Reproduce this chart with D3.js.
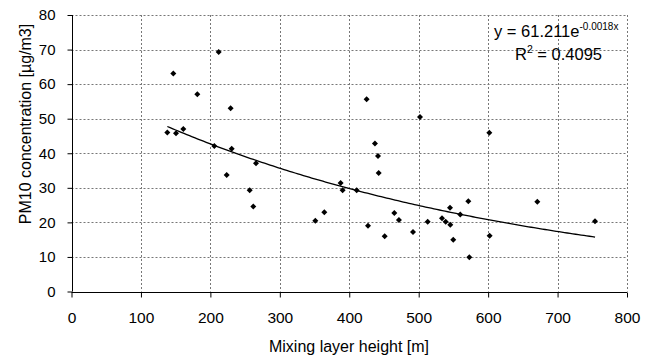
<!DOCTYPE html>
<html><head><meta charset="utf-8">
<script src="https://cdn.jsdelivr.net/npm/d3@7"></script>
<style>body{margin:0;background:#fff}svg{display:block}text{font-family:"Liberation Sans",Arial,sans-serif;fill:#000}</style>
</head><body>
<svg id="c" width="652" height="361"></svg>
<script>
const mixingHeight = [138,146.6,150.5,161,181.2,205.7,212,229.2,230.7,223.5,256.6,261.8,265.7,351.1,364.1,387.6,390.5,410.7,425,427,437,441.4,442.4,451,464.9,471.6,491.8,501.9,513,533.6,538.9,545.1,545.5,549.8,559.9,571.5,572.9,601.7,602.2,670.8,753.9];
const pm10 = [46.0,63.1,45.8,47.0,57.1,42.1,69.3,53.0,41.3,33.7,29.3,24.6,37.1,20.5,22.9,31.4,29.3,29.3,55.6,19.0,42.8,39.2,34.3,16.0,22.7,20.7,17.2,50.5,20.2,21.2,20.2,24.2,19.3,15.0,22.3,26.1,9.9,45.9,16.1,26.0,20.3];
const xTicks = [0,100,200,300,400,500,600,700,800];
const yTicks = [0,10,20,30,40,50,60,70,80];
const trendCoefA = 61.211, trendCoefB = -0.0018;
const trendRange = [138, 754];
const eqText = "y = 61.211e", eqSup = "-0.0018x", r2Text = "0.4095";

const svg = d3.select("#c");
const L = 71.5, R = 627, T = 15, B = 291.5;
const x = d3.scaleLinear().domain([0,800]).range([L,R]);
const y = d3.scaleLinear().domain([0,80]).range([B,T]);

// grid
const g = svg.append("g").attr("stroke","#777").attr("stroke-width",1).attr("stroke-dasharray","2,2");
yTicks.filter(v=>v>0).forEach(v=>g.append("line").attr("x1",L).attr("x2",R).attr("y1",Math.round(y(v))+0.5).attr("y2",Math.round(y(v))+0.5));
xTicks.filter(v=>v>0).forEach(v=>g.append("line").attr("y1",T).attr("y2",B).attr("x1",Math.round(x(v))+0.5).attr("x2",Math.round(x(v))+0.5));

// axes
const xa = svg.append("g").attr("transform",`translate(0,${Math.round(B)+0.5})`)
  .call(d3.axisBottom(x).tickValues(xTicks).tickSize(5).tickPadding(14).tickFormat(d3.format("d")));
const ya = svg.append("g").attr("transform",`translate(${Math.round(L)+0.5},0)`)
  .call(d3.axisLeft(y).tickValues(yTicks).tickSize(5).tickPadding(12).tickFormat(d3.format("d")));
[xa,ya].forEach(a=>{a.select(".domain").attr("stroke","#000");a.selectAll("line").attr("stroke","#000");
  a.selectAll("text").attr("font-family","Liberation Sans, Arial, sans-serif").attr("fill","#000");});
xa.selectAll("text").attr("font-size",15.5);
ya.selectAll("text").attr("font-size",15);
xa.select(".domain").attr("d",`M${L},0H${R}`);
ya.select(".domain").attr("d",`M0,${T}V${B}`);

// trend line
const tdata = d3.range(trendRange[0], trendRange[1]+0.1, 4).map(v=>[v, trendCoefA*Math.exp(trendCoefB*v)]);
svg.append("path").datum(tdata).attr("fill","none").attr("stroke","#000").attr("stroke-width",1.3)
  .attr("d", d3.line().x(d=>x(d[0])).y(d=>y(d[1])));

// points
svg.append("g").selectAll("path").data(mixingHeight.map((v,i)=>[v,pm10[i]])).join("path")
  .attr("transform",d=>`translate(${x(d[0])},${y(d[1])})`)
  .attr("d","M0,-3L3,0L0,3L-3,0Z").attr("fill","#000");

// equation
const e1 = svg.append("text").attr("x",494).attr("y",37).attr("font-size",16.5);
e1.append("tspan").text(eqText);
e1.append("tspan").attr("dy",-7).attr("font-size",10).text(eqSup);
const e2 = svg.append("text").attr("x",515).attr("y",60).attr("font-size",16.5);
e2.append("tspan").text("R");
e2.append("tspan").attr("dy",-7).attr("font-size",10.5).text("2");
e2.append("tspan").attr("dy",7).text(" = " + r2Text);

// titles
svg.append("text").attr("x",349).attr("y",352).attr("text-anchor","middle").attr("font-size",16).text("Mixing layer height [m]");
svg.append("text").attr("transform","translate(31,124) rotate(-90)").attr("text-anchor","middle").attr("font-size",16).text("PM10 concentration [µg/m3]");
</script>
</body></html>
